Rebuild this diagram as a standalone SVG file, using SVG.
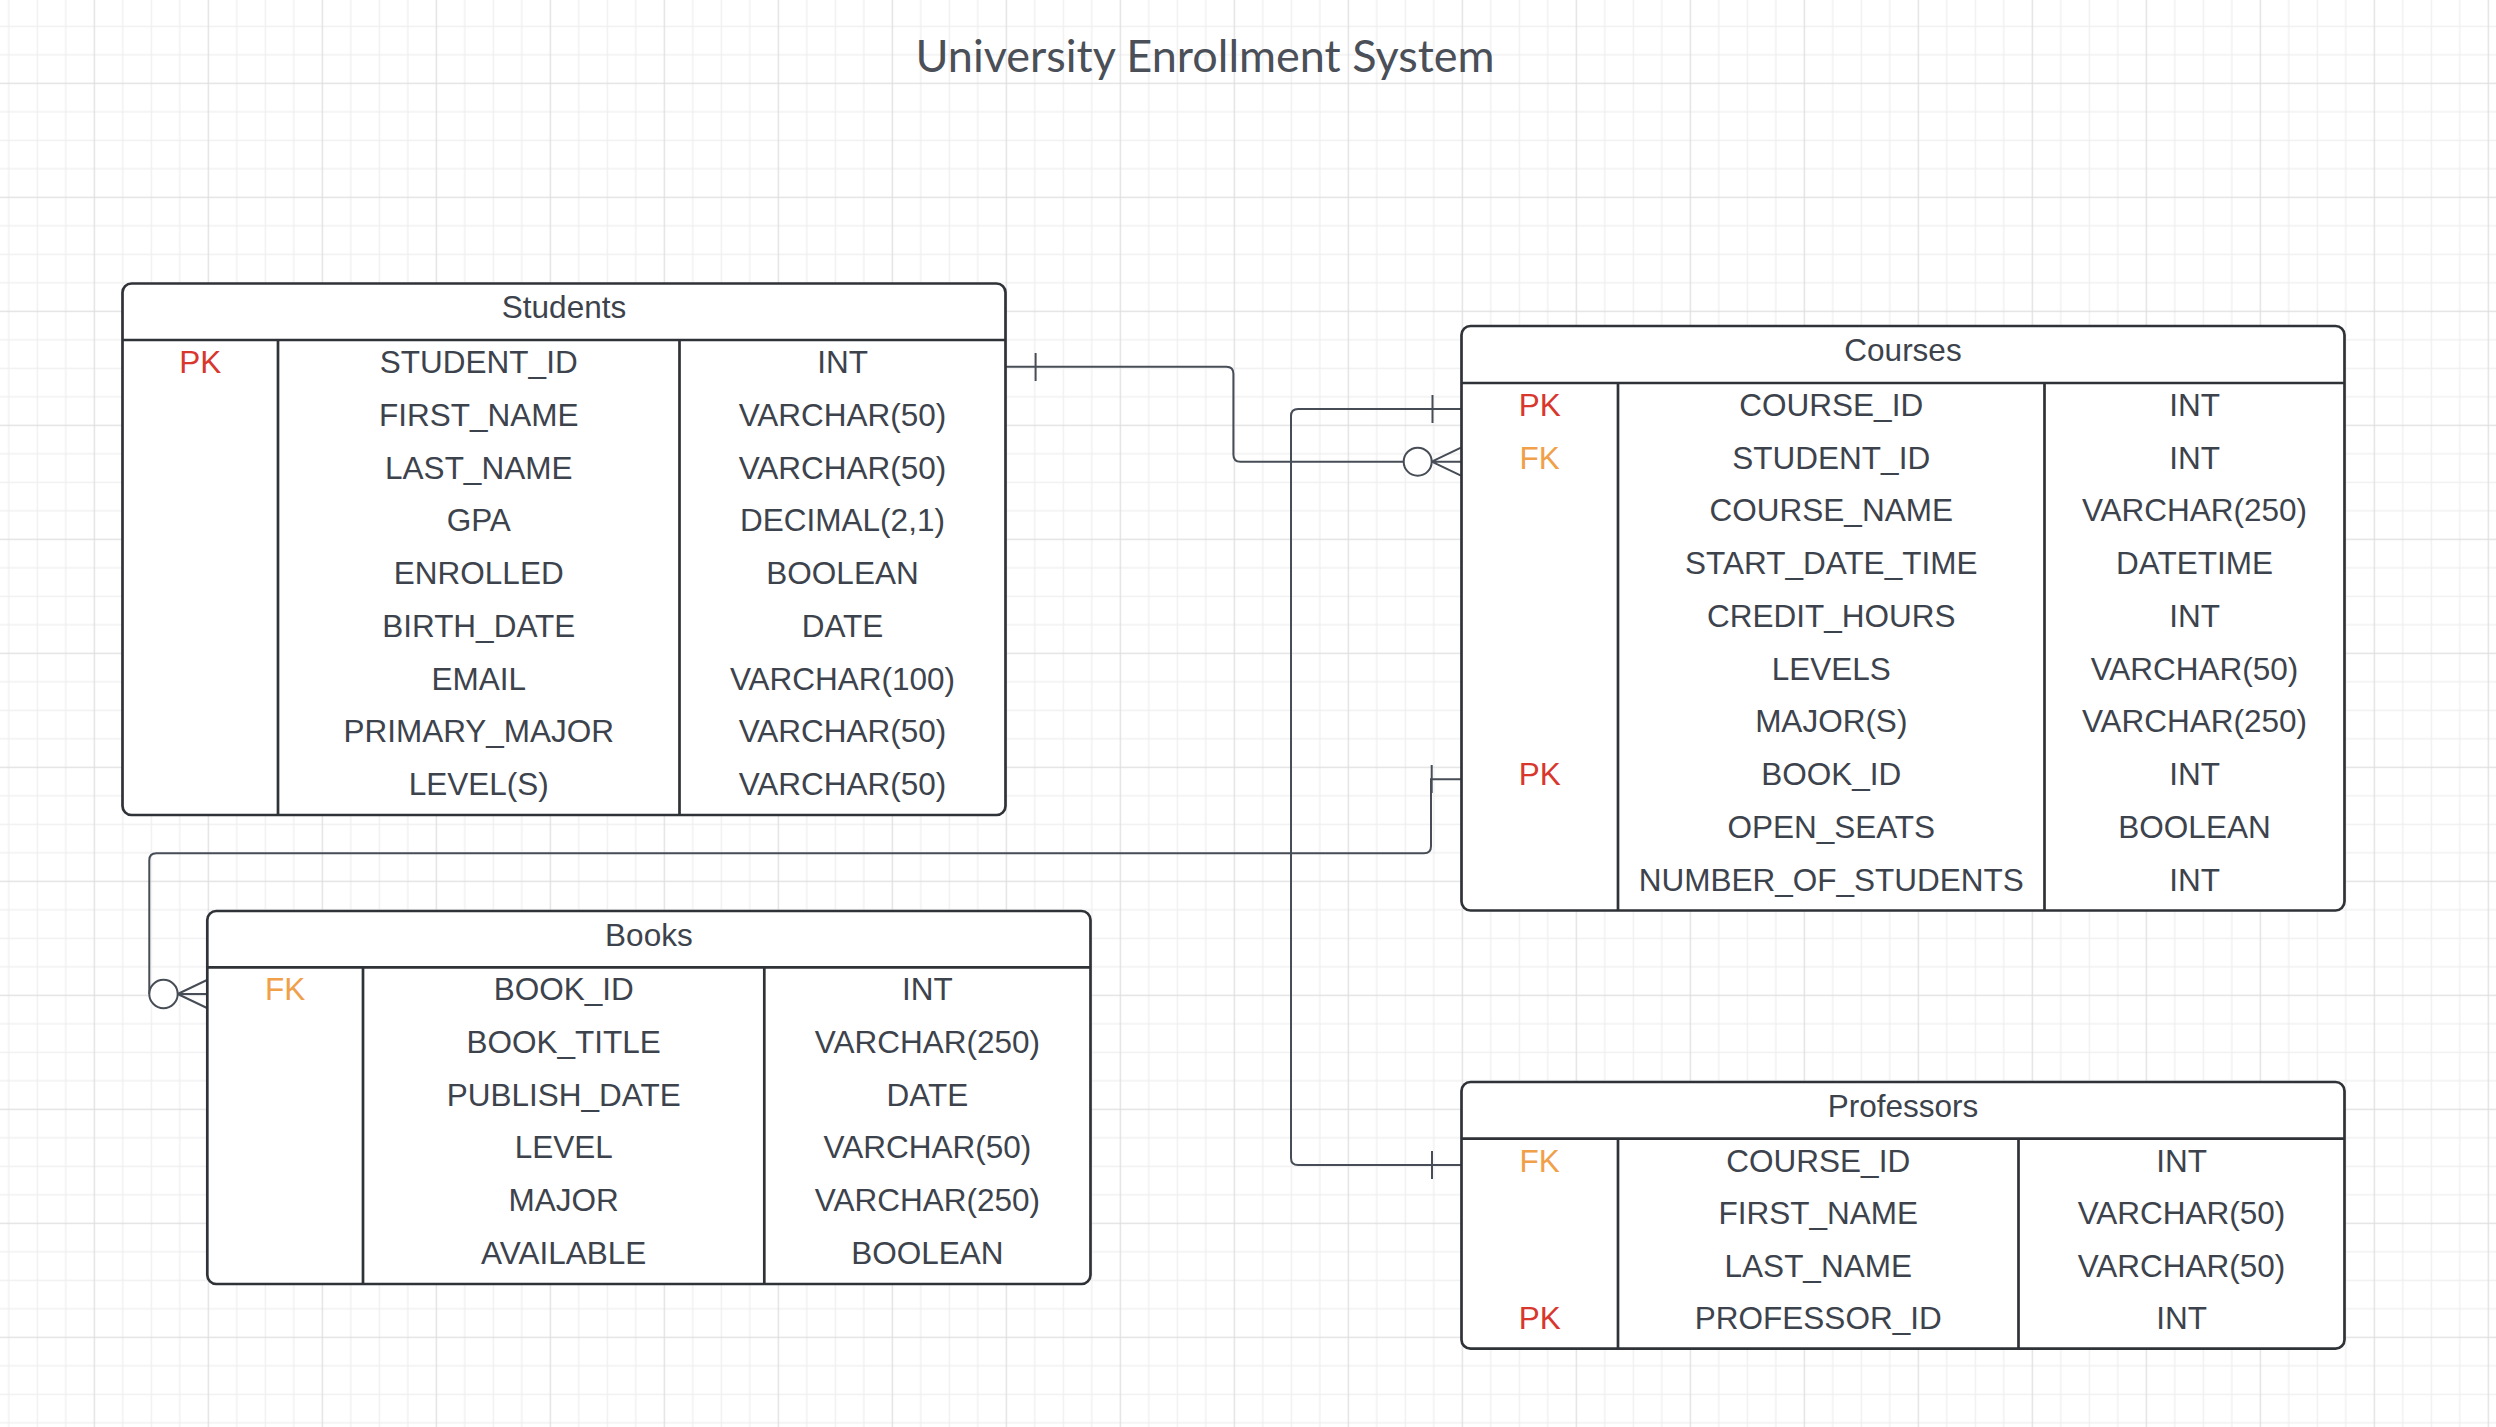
<svg xmlns="http://www.w3.org/2000/svg" width="2496" height="1427" viewBox="0 0 2496 1427">
<style>
.tbl{fill:#ffffff;stroke:#2f3237;stroke-width:2.7}
.ln{stroke:#2f3237;stroke-width:2.7;fill:none}
.t{font-family:"Liberation Sans",Arial,sans-serif;font-size:31.5px;fill:#3d434c;text-anchor:middle}
.pk{fill:#d8372d}
.fk{fill:#f0a049}
.title{font-family:Lato,"Liberation Sans",sans-serif;font-size:45px;fill:#4a4f58;text-anchor:middle}
.con{stroke:#474d56;stroke-width:2;fill:none}
.circ{stroke:#474d56;stroke-width:2;fill:#ffffff}
</style>
<defs>
<pattern id="grid" patternUnits="userSpaceOnUse" x="93.7" y="82.7" width="114" height="114">
<rect width="114" height="114" fill="#ffffff"/>
<rect x="28.5" y="0" width="1.2" height="114" fill="#eeeeee"/>
<rect x="57" y="0" width="1.2" height="114" fill="#eeeeee"/>
<rect x="85.5" y="0" width="1.2" height="114" fill="#eeeeee"/>
<rect x="0" y="28.5" width="114" height="1.2" fill="#eeeeee"/>
<rect x="0" y="57" width="114" height="1.2" fill="#eeeeee"/>
<rect x="0" y="85.5" width="114" height="1.2" fill="#eeeeee"/>
<rect x="0" y="0" width="1.2" height="114" fill="#dedede"/>
<rect x="0" y="0" width="114" height="1.2" fill="#dedede"/>
</pattern>
</defs>
<rect x="0" y="0" width="2496" height="1427" fill="url(#grid)"/>
<text class="title" x="1205" y="72.3">University Enrollment System</text>

<g id="connectors">
<path class="con" d="M1006,366.7 H1226.4 Q1233.4,366.7 1233.4,373.7 V454.7 Q1233.4,461.7 1240.4,461.7 H1403.7"/>
<path class="con" d="M1035.6,353 V381"/>
<circle class="circ" cx="1417.7" cy="461.7" r="14"/>
<path class="con" d="M1431.7,461.7 L1461,447.7 M1431.7,461.7 H1461 M1431.7,461.7 L1461,475.7"/>

<path class="con" d="M1461,409 H1298 Q1291,409 1291,416 V1158 Q1291,1165 1298,1165 H1461"/>
<path class="con" d="M1432.5,395 V423 M1432,1151 V1179"/>

<path class="con" d="M1461,779.3 H1431 V846.3 Q1431,853.3 1424,853.3 H156.3 Q149.3,853.3 149.3,860.3 V994"/>
<path class="con" d="M1431.7,765 V793"/>
<circle class="circ" cx="163.5" cy="994" r="14.2"/>
<path class="con" d="M177.7,994 L207,980 M177.7,994 H207 M177.7,994 L207,1008"/>
</g>

<g id="students">
<rect class="tbl" x="122.5" y="283.5" width="883" height="531.5" rx="9"/>
<path class="ln" d="M122.5,340 H1005.5 M278,340 V815 M679.5,340 V815"/>
<text class="t" x="564" y="318">Students</text>
<text class="t pk" x="200.25" y="372.9">PK</text>
<text class="t" x="478.75" y="372.9">STUDENT_ID</text><text class="t" x="842.5" y="372.9">INT</text>
<text class="t" x="478.75" y="425.7">FIRST_NAME</text><text class="t" x="842.5" y="425.7">VARCHAR(50)</text>
<text class="t" x="478.75" y="478.5">LAST_NAME</text><text class="t" x="842.5" y="478.5">VARCHAR(50)</text>
<text class="t" x="478.75" y="531.2">GPA</text><text class="t" x="842.5" y="531.2">DECIMAL(2,1)</text>
<text class="t" x="478.75" y="584">ENROLLED</text><text class="t" x="842.5" y="584">BOOLEAN</text>
<text class="t" x="478.75" y="636.8">BIRTH_DATE</text><text class="t" x="842.5" y="636.8">DATE</text>
<text class="t" x="478.75" y="689.6">EMAIL</text><text class="t" x="842.5" y="689.6">VARCHAR(100)</text>
<text class="t" x="478.75" y="742.4">PRIMARY_MAJOR</text><text class="t" x="842.5" y="742.4">VARCHAR(50)</text>
<text class="t" x="478.75" y="795.1">LEVEL(S)</text><text class="t" x="842.5" y="795.1">VARCHAR(50)</text>
</g>

<g id="courses">
<rect class="tbl" x="1461.5" y="326" width="883" height="584.5" rx="9"/>
<path class="ln" d="M1461.5,383 H2344.5 M1618,383 V910.5 M2044.5,383 V910.5"/>
<text class="t" x="1903" y="361">Courses</text>
<text class="t pk" x="1539.75" y="415.9">PK</text>
<text class="t fk" x="1539.75" y="468.6">FK</text>
<text class="t pk" x="1539.75" y="785.1">PK</text>
<text class="t" x="1831.25" y="415.9">COURSE_ID</text><text class="t" x="2194.5" y="415.9">INT</text>
<text class="t" x="1831.25" y="468.6">STUDENT_ID</text><text class="t" x="2194.5" y="468.6">INT</text>
<text class="t" x="1831.25" y="521.4">COURSE_NAME</text><text class="t" x="2194.5" y="521.4">VARCHAR(250)</text>
<text class="t" x="1831.25" y="574.1">START_DATE_TIME</text><text class="t" x="2194.5" y="574.1">DATETIME</text>
<text class="t" x="1831.25" y="626.9">CREDIT_HOURS</text><text class="t" x="2194.5" y="626.9">INT</text>
<text class="t" x="1831.25" y="679.6">LEVELS</text><text class="t" x="2194.5" y="679.6">VARCHAR(50)</text>
<text class="t" x="1831.25" y="732.4">MAJOR(S)</text><text class="t" x="2194.5" y="732.4">VARCHAR(250)</text>
<text class="t" x="1831.25" y="785.1">BOOK_ID</text><text class="t" x="2194.5" y="785.1">INT</text>
<text class="t" x="1831.25" y="837.9">OPEN_SEATS</text><text class="t" x="2194.5" y="837.9">BOOLEAN</text>
<text class="t" x="1831.25" y="890.6">NUMBER_OF_STUDENTS</text><text class="t" x="2194.5" y="890.6">INT</text>
</g>

<g id="books">
<rect class="tbl" x="207.3" y="911" width="883.2" height="373" rx="9"/>
<path class="ln" d="M207.3,967.3 H1090.5 M363,967.3 V1284 M764.3,967.3 V1284"/>
<text class="t" x="648.9" y="945.7">Books</text>
<text class="t fk" x="285.2" y="1000">FK</text>
<text class="t" x="563.7" y="1000">BOOK_ID</text><text class="t" x="927.4" y="1000">INT</text>
<text class="t" x="563.7" y="1052.8">BOOK_TITLE</text><text class="t" x="927.4" y="1052.8">VARCHAR(250)</text>
<text class="t" x="563.7" y="1105.6">PUBLISH_DATE</text><text class="t" x="927.4" y="1105.6">DATE</text>
<text class="t" x="563.7" y="1158.3">LEVEL</text><text class="t" x="927.4" y="1158.3">VARCHAR(50)</text>
<text class="t" x="563.7" y="1211.1">MAJOR</text><text class="t" x="927.4" y="1211.1">VARCHAR(250)</text>
<text class="t" x="563.7" y="1263.9">AVAILABLE</text><text class="t" x="927.4" y="1263.9">BOOLEAN</text>
</g>

<g id="professors">
<rect class="tbl" x="1461.5" y="1082" width="883" height="266.7" rx="9"/>
<path class="ln" d="M1461.5,1138.7 H2344.5 M1618,1138.7 V1348.7 M2018.5,1138.7 V1348.7"/>
<text class="t" x="1903" y="1116.9">Professors</text>
<text class="t fk" x="1539.75" y="1171.5">FK</text>
<text class="t pk" x="1539.75" y="1329">PK</text>
<text class="t" x="1818.25" y="1171.5">COURSE_ID</text><text class="t" x="2181.5" y="1171.5">INT</text>
<text class="t" x="1818.25" y="1224">FIRST_NAME</text><text class="t" x="2181.5" y="1224">VARCHAR(50)</text>
<text class="t" x="1818.25" y="1276.5">LAST_NAME</text><text class="t" x="2181.5" y="1276.5">VARCHAR(50)</text>
<text class="t" x="1818.25" y="1329">PROFESSOR_ID</text><text class="t" x="2181.5" y="1329">INT</text>
</g>
</svg>
